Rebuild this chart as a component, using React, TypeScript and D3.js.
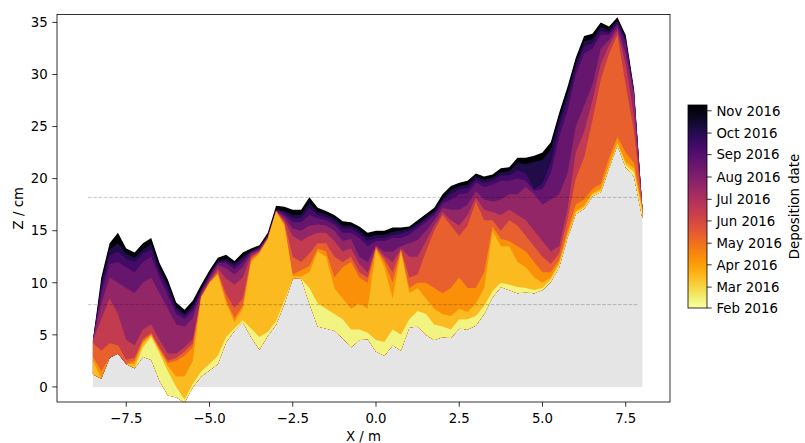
import React from 'react';
import * as d3 from 'd3';

// survey positions along the transect (m)
const xs = [
  -8.5, -8.25, -8.0, -7.75, -7.5, -7.25, -7.0, -6.75, -6.5, -6.25,
  -6.0, -5.75, -5.5, -5.25, -5.0, -4.75, -4.5, -4.25, -4.0, -3.75,
  -3.5, -3.25, -3.0, -2.75, -2.5, -2.25, -2.0, -1.75, -1.5, -1.25,
  -1.0, -0.75, -0.5, -0.25, 0.0, 0.25, 0.5, 0.75, 1.0, 1.25,
  1.5, 1.75, 2.0, 2.25, 2.5, 2.75, 3.0, 3.25, 3.5, 3.75,
  4.0, 4.25, 4.5, 4.75, 5.0, 5.25, 5.5, 5.75, 6.0, 6.25,
  6.5, 6.75, 7.0, 7.25, 7.5, 7.75, 8.0,
];

// lowest preserved surface (cm)
const zBase = [
  1.2, 0.8, 2.8, 3.2, 2.2, 1.8, 2.9, 2.6, 0.6, -0.8,
  -1.0, -1.5, 0.0, 1.0, 1.6, 2.2, 4.3, 5.4, 6.2, 4.8,
  3.6, 4.9, 6.0, 8.0, 10.4, 10.4, 8.0, 5.8, 5.6, 5.4,
  4.7, 3.8, 4.5, 4.6, 3.4, 3.0, 4.0, 3.5, 5.7, 5.8,
  5.0, 4.5, 4.8, 4.7, 5.6, 5.5, 5.9, 7.0, 8.6, 9.6,
  9.3, 9.0, 9.1, 9.0, 9.3, 10.1, 11.5, 14.3, 16.6, 17.1,
  18.3, 18.7, 21.0, 23.2, 21.1, 20.2, 16.2,
];

// top of preserved deposit for each survey (cm)
const zFeb = [
  1.2, 0.8, 2.8, 3.2, 2.2, 1.8, 3.8, 4.8, 3.2, 1.5,
  0.0, -1.2, 0.3, 1.5, 2.2, 3.0, 4.8, 5.6, 6.4, 5.6,
  4.8, 5.3, 6.3, 8.3, 10.4, 10.4, 9.5, 8.0, 7.5, 7.0,
  6.5, 5.5, 5.5, 5.2, 4.5, 4.3, 5.5, 5.0, 6.5, 7.3,
  7.0, 6.0, 5.8, 5.5, 6.5, 6.5, 6.8, 7.8, 9.2, 10.0,
  9.8, 9.6, 9.5, 9.3, 9.5, 10.3, 11.7, 14.4, 16.7, 17.2,
  18.4, 18.8, 21.1, 23.3, 21.3, 20.6, 16.6,
];
const zMar = [
  2.5, 0.8, 2.8, 3.2, 2.2, 2.2, 4.2, 5.0, 3.5, 2.0,
  1.0, 1.0, 2.5, 8.6, 10.0, 10.8, 8.0, 6.2, 7.5, 12.0,
  12.8, 14.2, 16.8, 15.5, 10.6, 10.6, 11.0, 13.0, 12.5, 9.5,
  8.5, 7.5, 8.0, 7.5, 13.2, 11.5, 8.5, 13.0, 9.0, 9.5,
  8.5, 7.5, 7.0, 6.8, 7.5, 7.2, 8.0, 9.5, 15.0, 13.5,
  13.5, 12.0, 11.5, 10.5, 10.0, 10.5, 11.9, 14.6, 16.9, 17.4,
  18.6, 19.0, 21.3, 23.5, 21.6, 21.0, 17.0,
];
const zApr = [
  2.9, 1.5, 2.8, 3.2, 2.2, 2.5, 4.4, 5.0, 3.6, 2.3,
  2.5, 3.0, 3.8, 8.6, 10.0, 10.9, 8.4, 6.6, 7.8, 12.2,
  12.9, 14.2, 16.9, 15.6, 10.8, 11.2, 11.6, 13.3, 13.0, 10.5,
  11.5, 12.0, 10.5, 10.0, 13.3, 12.0, 10.0, 13.1, 9.5, 10.0,
  10.0, 9.5, 9.0, 9.5, 10.5, 9.5, 9.5, 11.0, 15.4, 14.2,
  14.0, 13.5, 13.0, 12.0, 11.0, 11.0, 12.2, 15.0, 17.5, 18.0,
  19.0, 19.5, 22.0, 24.0, 22.5, 21.5, 17.2,
];
const zMay = [
  4.2, 3.5, 4.2, 4.0, 2.6, 2.8, 4.6, 5.2, 3.8, 2.5,
  2.8, 3.4, 4.2, 8.7, 10.1, 11.1, 8.9, 7.6, 8.5, 12.4,
  13.0, 14.3, 16.9, 15.8, 12.5, 12.0, 12.8, 13.8, 13.8, 12.5,
  12.0, 12.5, 11.0, 10.5, 13.4, 12.3, 11.0, 13.2, 10.5, 10.8,
  13.0, 15.0, 16.5, 15.5, 14.5, 15.5, 17.8, 16.0, 16.0, 15.0,
  16.0, 15.5, 14.5, 13.5, 12.5, 11.8, 12.8, 16.0, 20.0, 22.0,
  25.6, 29.5, 32.0, 33.8, 29.0, 24.5, 17.2,
];
const zJun = [
  4.5, 6.5, 8.5, 7.0, 4.5, 4.0, 5.5, 6.0, 4.5, 3.2,
  3.2, 3.8, 4.6, 8.8, 10.2, 11.4, 10.4, 9.8, 10.5, 12.6,
  13.1, 14.3, 16.9, 16.0, 14.5, 14.0, 14.5, 14.8, 14.8, 14.0,
  13.0, 13.3, 11.8, 11.0, 13.5, 12.6, 12.0, 13.3, 12.5, 12.5,
  14.0, 15.5, 16.8, 16.0, 15.5, 16.5, 18.2, 17.0, 16.8, 16.5,
  17.0, 16.5, 16.0, 15.0, 14.0, 13.0, 13.5, 17.0, 22.5, 24.5,
  27.5, 31.0, 32.8, 34.2, 31.0, 26.0, 17.2,
];
const zJul = [
  4.5, 8.0, 10.5, 10.0, 9.5, 9.0, 10.0, 10.5, 9.0, 7.5,
  6.0, 5.8, 6.6, 9.0, 10.4, 11.7, 11.4, 10.8, 11.5, 12.8,
  13.2, 14.4, 16.9, 16.3, 15.2, 15.0, 15.5, 15.6, 15.5, 15.0,
  14.0, 14.2, 12.5, 12.0, 13.6, 13.0, 13.0, 13.5, 13.8, 14.1,
  15.0, 16.0, 17.2, 17.0, 17.0, 17.5, 18.8, 18.0, 17.8, 18.0,
  18.5, 18.5, 19.2, 18.5, 17.5, 18.0, 18.5, 20.5, 25.0, 27.0,
  29.0, 32.5, 33.3, 34.5, 32.0, 28.0, 17.2,
];
const zAug = [
  4.5, 9.0, 11.8, 12.0, 11.5, 11.0, 12.0, 12.5, 10.5, 8.8,
  7.0, 6.5, 7.3, 9.2, 10.6, 11.9, 11.9, 11.3, 12.0, 12.9,
  13.3, 14.5, 17.0, 16.5, 15.8, 15.8, 16.5, 16.2, 16.0, 15.6,
  14.8, 14.8, 14.3, 13.5, 14.0, 14.0, 14.3, 14.3, 14.6, 15.2,
  15.8, 16.5, 17.6, 18.0, 18.5, 18.6, 19.6, 19.2, 19.4, 19.8,
  19.8, 20.0, 19.8, 18.8, 19.0, 20.5, 24.0, 26.5, 30.0, 32.0,
  32.5, 33.8, 33.8, 34.8, 33.0, 28.2, 17.2,
];
const zSep = [
  4.5, 9.6, 12.6, 13.0, 12.3, 12.0, 12.8, 13.2, 11.0, 9.4,
  7.4, 6.8, 7.6, 9.3, 10.8, 12.0, 12.1, 11.6, 12.3, 13.0,
  13.4, 14.5, 17.0, 16.7, 16.2, 16.2, 17.2, 16.5, 16.3, 15.9,
  15.2, 15.2, 14.7, 14.0, 14.3, 14.3, 14.6, 14.7, 15.0, 15.5,
  16.1, 16.7, 17.9, 18.5, 19.0, 19.1, 19.9, 19.6, 19.8, 20.3,
  20.3, 20.8, 20.5, 19.0, 19.5, 21.5, 25.0, 27.5, 30.6, 32.7,
  33.0, 34.2, 34.0, 35.0, 33.3, 28.3, 17.2,
];
const zOct = [
  4.5, 10.0, 13.2, 13.8, 12.8, 12.4, 13.2, 13.7, 11.4, 9.8,
  7.7, 7.0, 7.9, 9.4, 10.9, 12.1, 12.3, 11.8, 12.5, 13.0,
  13.4, 14.5, 17.0, 16.9, 16.5, 16.5, 17.7, 16.8, 16.6, 16.2,
  15.5, 15.5, 15.0, 14.4, 14.6, 14.6, 14.9, 15.0, 15.2, 15.7,
  16.3, 16.9, 18.1, 18.9, 19.3, 19.4, 20.2, 19.9, 20.1, 20.6,
  20.7, 21.5, 21.4, 21.6, 21.8, 22.8, 25.7, 28.2, 31.1, 33.2,
  33.4, 34.6, 34.2, 35.2, 33.5, 28.4, 17.2,
];
const zNov = [
  4.5, 10.5, 13.8, 14.8, 13.3, 12.9, 13.8, 14.3, 11.9, 10.3,
  8.1, 7.4, 8.3, 9.8, 11.2, 12.4, 12.7, 12.1, 12.9, 13.3,
  13.6, 14.8, 17.4, 17.3, 17.0, 17.0, 18.2, 17.2, 16.9, 16.5,
  15.9, 15.8, 15.4, 14.8, 15.0, 15.0, 15.3, 15.3, 15.4, 16.0,
  16.6, 17.2, 18.5, 19.3, 19.6, 19.8, 20.5, 20.2, 20.4, 21.0,
  21.1, 22.0, 22.0, 22.2, 22.5, 23.5, 26.3, 28.8, 31.6, 33.7,
  33.9, 35.0, 34.6, 35.5, 33.8, 28.6, 17.2,
];

const surveyDates = [
  '2016-02-12', '2016-03-17', '2016-04-10', '2016-05-12', '2016-06-15',
  '2016-07-19', '2016-08-19', '2016-09-12', '2016-10-05', '2016-11-07',
];
const surveyTops = [zFeb, zMar, zApr, zMay, zJun, zJul, zAug, zSep, zOct, zNov];

const colorbarRange = ['2016-02-01', '2016-11-09'];
const refLevels = [7.9, 18.2];
const refExtent = [-8.65, 7.85];
const xTicks = [-7.5, -5.0, -2.5, 0.0, 2.5, 5.0, 7.5];
const yTicks = [0, 5, 10, 15, 20, 25, 30, 35];

const W = 805;
const H = 443;
const plot = { left: 57, right: 670, top: 14.5, bottom: 402 };
const cbar = { x: 688, y: 105, w: 19, h: 203 };
const font = '"DejaVu Sans", sans-serif';
const fs = 13.3;

const fmtNum = (v: number) => d3.format('.1f')(v).replace('-', '\u2212');

export default function App() {
  const x = d3.scaleLinear().domain([-9.58, 8.83]).range([plot.left, plot.right]);
  const y = d3.scaleLinear().domain([-1.45, 35.76]).range([plot.bottom, plot.top]);

  const parse = d3.timeParse('%Y-%m-%d');
  const cbScale = d3
    .scaleTime()
    .domain(colorbarRange.map((d) => parse(d) as Date))
    .range([cbar.y + cbar.h, cbar.y]);
  const colorT = d3
    .scaleTime()
    .domain(colorbarRange.map((d) => parse(d) as Date))
    .range([1, 0]);
  const cbTicks = cbScale.ticks(d3.timeMonth.every(1) as any);
  const fmtDate = d3.timeFormat('%b %Y');

  const idx = d3.range(xs.length);
  // grey bed: from zero up to the lowest surface (never below zero)
  const ground = d3
    .area<number>()
    .x((i) => x(xs[i]))
    .y0(() => y(0))
    .y1((i) => y(Math.max(zBase[i], 0)));

  const layerArea = (tops: number[]) =>
    d3
      .area<number>()
      .x((i) => x(xs[i]))
      .y0((i) => y(zBase[i]))
      .y1((i) => y(Math.max(tops[i], zBase[i])))(idx) as string;

  // paint the latest survey first so earlier deposits sit on top of it
  const order = d3.range(surveyTops.length).reverse();

  const gradStops = d3.range(0, 1.0001, 0.05);

  return (
    <svg
      width={W}
      height={H}
      style={{ position: 'absolute', left: 0, top: 0, background: '#fff' }}
      fontFamily={font}
    >
      <defs>
        <clipPath id="plotclip">
          <rect x={plot.left} y={plot.top} width={plot.right - plot.left} height={plot.bottom - plot.top} />
        </clipPath>
        <linearGradient id="cbgrad" x1="0" y1="1" x2="0" y2="0">
          {gradStops.map((o) => (
            <stop key={o} offset={o} stopColor={d3.interpolateInferno(1 - o)} />
          ))}
        </linearGradient>
      </defs>

      <g clipPath="url(#plotclip)">
        <path d={ground(idx) as string} fill="#e5e5e5" />
        {order.map((k) => (
          <path
            key={k}
            d={layerArea(surveyTops[k])}
            fill={d3.interpolateInferno(colorT(parse(surveyDates[k]) as Date))}
          />
        ))}
        {refLevels.map((lv) => (
          <line
            key={lv}
            x1={x(refExtent[0])}
            x2={x(refExtent[1])}
            y1={y(lv)}
            y2={y(lv)}
            stroke="rgba(0,0,0,0.22)"
            strokeWidth={1}
            strokeDasharray="3.7 1.6"
          />
        ))}
      </g>

      <rect
        x={plot.left}
        y={plot.top}
        width={plot.right - plot.left}
        height={plot.bottom - plot.top}
        fill="none"
        stroke="#000"
        strokeWidth={0.8}
      />

      {xTicks.map((t) => (
        <g key={t} transform={`translate(${x(t)},${plot.bottom})`}>
          <line y2={4.7} stroke="#000" strokeWidth={0.8} />
          <text y={20.5} textAnchor="middle" fontSize={fs} fill="#000">
            {fmtNum(t)}
          </text>
        </g>
      ))}
      {yTicks.map((t) => (
        <g key={t} transform={`translate(${plot.left},${y(t)})`}>
          <line x2={-4.7} stroke="#000" strokeWidth={0.8} />
          <text x={-9.4} dy="0.36em" textAnchor="end" fontSize={fs} fill="#000">
            {t}
          </text>
        </g>
      ))}
      <text x={(plot.left + plot.right) / 2} y={441} textAnchor="middle" fontSize={fs}>
        X / m
      </text>
      <text transform={`translate(23,${(plot.top + plot.bottom) / 2}) rotate(-90)`} textAnchor="middle" fontSize={fs}>
        Z / cm
      </text>

      <rect x={cbar.x} y={cbar.y} width={cbar.w} height={cbar.h} fill="url(#cbgrad)" stroke="#000" strokeWidth={0.8} />
      {cbTicks.map((d) => (
        <g key={+d} transform={`translate(${cbar.x + cbar.w},${cbScale(d)})`}>
          <line x2={4.7} stroke="#000" strokeWidth={0.8} />
          <text x={9.4} dy="0.36em" fontSize={fs} fill="#000">
            {fmtDate(d)}
          </text>
        </g>
      ))}
      <text transform={`translate(799,${cbar.y + cbar.h / 2}) rotate(-90)`} textAnchor="middle" fontSize={fs}>
        Deposition date
      </text>
    </svg>
  );
}
